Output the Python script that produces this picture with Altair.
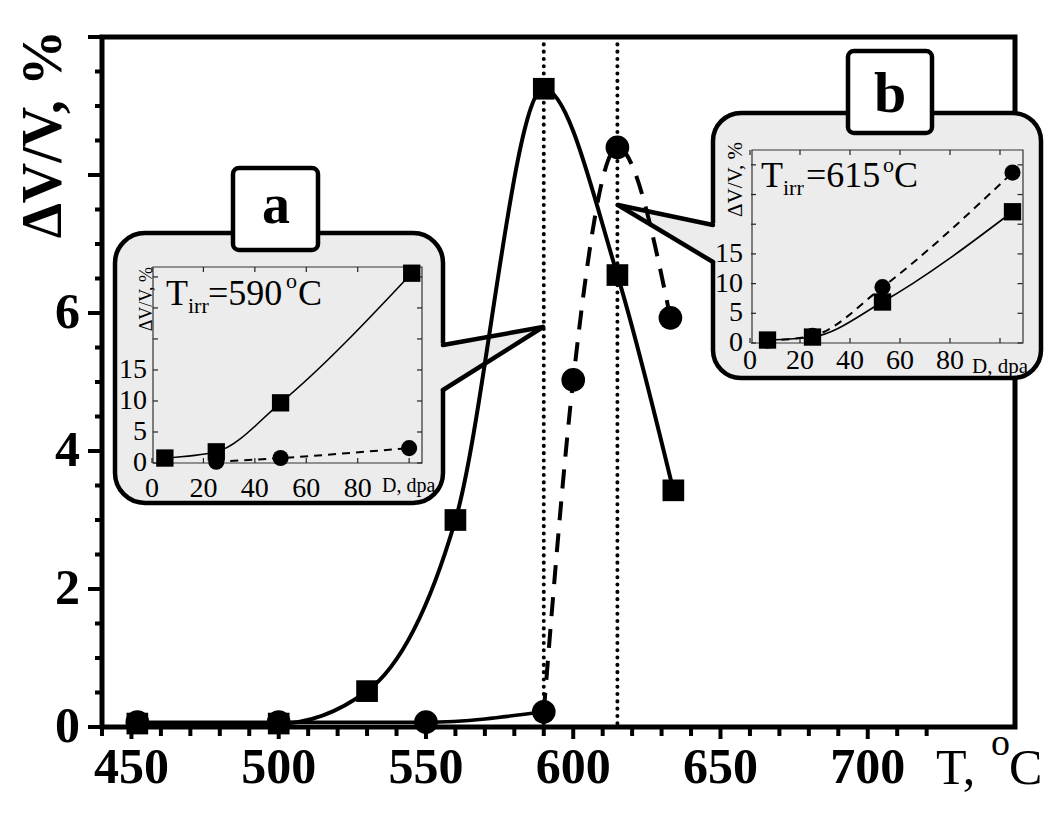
import altair as alt
import pandas as pd

SERIF = "Liberation Serif"
GRAY = "#ececec"

# ---------------- main panel data (T, °C  ->  dV/V, %) ----------------
sq_T = [452, 500, 530, 560, 590, 615, 634]
sq_V = [0.05, 0.05, 0.52, 3.0, 9.25, 6.55, 3.43]
ci_T = [452, 500, 550, 590, 600, 615, 633]
ci_V = [0.07, 0.07, 0.07, 0.22, 5.03, 8.4, 5.93]
irr_T = [590, 615]

x_major = [450, 500, 550, 600, 650, 700]
x_minor = [440, 460, 470, 480, 490, 510, 520, 530, 540, 560, 570, 580, 590,
           610, 620, 630, 640, 660, 670, 680, 690, 710, 720]
y_major = [0, 2, 4, 6, 8, 10]
y_labels = [0, 2, 4, 6]
y_minor = [0.5, 1, 1.5, 2.5, 3, 3.5, 4.5, 5, 5.5, 6.5, 7, 7.5, 8.5, 9, 9.5]

# ---------------- inset a (T_irr = 590 °C): D, dpa -> dV/V, % ----------------
a_sq_D = [5, 25, 50, 101]
a_sq_V = [0.8, 1.8, 9.7, 30.6]
a_ci_D = [25, 50, 100]
a_ci_V = [0.2, 0.8, 2.4]

# ---------------- inset b (T_irr = 615 °C) ----------------
b_sq_D = [7, 25, 53, 105]
b_sq_V = [0.5, 1.0, 6.9, 22.1]
b_ci_D = [7, 25, 53, 105]
b_ci_V = [0.4, 1.2, 9.4, 28.7]

inset_x_labels = [0, 20, 40, 60, 80]
inset_y_labels = [0, 5, 10, 15]
inset_x_ticks = [0, 20, 40, 60, 80, 100]
inset_y_ticks = [0, 5, 10, 15, 20, 25, 30]

W, H = 913, 690
one = pd.DataFrame({"k": [0]})


def txt(s, x, y, size, weight="normal", angle=0, align="left", baseline="alphabetic"):
    kw = dict(text=s, font=SERIF, fontSize=size, fontWeight=weight, align=align,
              baseline=baseline, color="black")
    if angle:
        kw["angle"] = angle
    return alt.Chart(one).mark_text(**kw).encode(x=alt.value(x), y=alt.value(y))


def box(x1, x2, y1, y2, r, fill, sw, stroke="black", fo=1):
    return alt.Chart(one).mark_rect(cornerRadius=r, fill=fill, fillOpacity=fo, stroke=stroke,
                                    strokeWidth=sw).encode(
        x=alt.value(x1), x2=alt.value(x2), y=alt.value(y1), y2=alt.value(y2))


def seg(x1, y1, x2, y2, sw):
    return alt.Chart(one).mark_rule(color="black", strokeWidth=sw, strokeCap="round").encode(
        x=alt.value(x1), y=alt.value(y1), x2=alt.value(x2), y2=alt.value(y2))


def wedge(pxs, pys, pys2):
    df = pd.DataFrame({"px": pxs, "py": pys, "py2": pys2})
    return alt.Chart(df).mark_area(color=GRAY, opacity=1, interpolate="linear").encode(
        x=alt.X("px:Q", scale=None, axis=None),
        y=alt.Y("py:Q", scale=None, axis=None),
        y2="py2:Q")


# ---------------- main scales ----------------
xs = alt.Scale(domain=[440, 750], nice=False, zero=False)
ys = alt.Scale(domain=[0, 10], nice=False, zero=False)

sq = pd.DataFrame({"T": sq_T, "V": sq_V})
ci = pd.DataFrame({"T": ci_T, "V": ci_V})
ci_lo = ci[ci["T"] <= irr_T[0]]
ci_hi = ci[ci["T"] >= irr_T[0]]

XM = lambda f="T": alt.X(f"{f}:Q", scale=xs, axis=None)
YM = lambda f="V": alt.Y(f"{f}:Q", scale=ys, axis=None)

xlab_df = pd.DataFrame({"T": x_major, "lab": [str(v) for v in x_major]})
ylab_df = pd.DataFrame({"V": y_labels, "lab": [str(v) for v in y_labels]})

main = alt.layer(
    # irradiation temperatures (dotted verticals)
    alt.Chart(pd.DataFrame({"T": irr_T})).mark_rule(
        color="black", strokeWidth=4, strokeDash=[0.1, 7.2], strokeCap="round").encode(
        x=XM(), y=alt.value(0), y2=alt.value(H)),
    # callout a
    box(13, 341, 196, 466, 30, GRAY, 4.5),
    wedge([336, 441], [307, 290], [354, 290]),
    seg(341, 308, 441, 290, 4.5),
    seg(341, 353, 441, 290, 4.5),
    box(131, 216, 131, 213, 6, "white", 4.5),
    txt("a", 174, 186, 56, "bold", align="center"),
    box(51, 320, 230, 426, 0, "white", 1.2, stroke="#333333", fo=0),
    # callout b
    box(611, 939, 76, 341, 28, GRAY, 4.5),
    wedge([516, 616], [168, 187], [168, 226]),
    seg(611, 188, 516, 168, 4.5),
    seg(611, 225, 516, 168, 4.5),
    box(746, 830, 14, 96, 6, "white", 4.5),
    txt("b", 788, 75, 58, "bold", align="center"),
    box(650, 921, 113, 306, 0, "white", 1.2, stroke="#333333", fo=0),
    # ticks
    alt.Chart(pd.DataFrame({"T": x_minor})).mark_rule(color="black", strokeWidth=4).encode(
        x=XM(), y=alt.value(H), y2=alt.value(H + 9)),
    alt.Chart(pd.DataFrame({"T": x_major})).mark_rule(color="black", strokeWidth=4).encode(
        x=XM(), y=alt.value(H), y2=alt.value(H + 12)),
    alt.Chart(pd.DataFrame({"V": y_minor})).mark_rule(color="black", strokeWidth=4).encode(
        y=YM(), x=alt.value(-7), x2=alt.value(0)),
    alt.Chart(pd.DataFrame({"V": y_major})).mark_rule(color="black", strokeWidth=4).encode(
        y=YM(), x=alt.value(-14), x2=alt.value(0)),
    # tick labels
    alt.Chart(xlab_df).mark_text(font=SERIF, fontSize=50, fontWeight="bold", color="black",
                                 align="center", baseline="alphabetic").encode(
        x=XM(), y=alt.value(H + 56), text="lab:N"),
    alt.Chart(ylab_df).mark_text(font=SERIF, fontSize=50, fontWeight="bold", color="black",
                                 align="right", baseline="middle").encode(
        y=YM(), x=alt.value(-22), text="lab:N"),
    # curves
    alt.Chart(sq).mark_line(interpolate="monotone", color="black", strokeWidth=4).encode(
        x=XM(), y=YM()),
    alt.Chart(ci_lo).mark_line(interpolate="monotone", color="black", strokeWidth=3.5).encode(
        x=XM(), y=YM()),
    alt.Chart(ci_hi).mark_line(interpolate="monotone", color="black", strokeWidth=4,
                               strokeDash=[19, 13]).encode(x=XM(), y=YM()),
    # markers
    alt.Chart(sq).mark_square(size=470, color="black", opacity=1).encode(x=XM(), y=YM()),
    alt.Chart(ci).mark_circle(size=560, color="black", opacity=1).encode(x=XM(), y=YM()),
    # titles
    txt("ΔV/V, %", -58, -7, 56, "bold", angle=270, align="right", baseline="middle"),
    txt("T,", 834, 747, 50),
    txt("o", 889, 718, 38),
    txt("C", 907, 747, 50),
    # inset a texts
    txt("T", 64, 268, 36), txt("irr", 86, 276, 22), txt("=590", 106, 268, 36),
    txt("o", 184, 251, 22), txt("C", 196, 268, 36),
    txt("ΔV/V, %", 45, 230, 18, angle=270, align="right", baseline="middle"),
    txt("D, dpa", 280, 455, 20),
    # inset b texts
    txt("T", 659, 150, 36), txt("irr", 681, 158, 22), txt("=615", 704, 150, 36),
    txt("o", 781, 135, 22), txt("C", 792, 150, 36),
    txt("ΔV/V, %", 634, 105, 21, angle=270, align="right", baseline="middle"),
    txt("D, dpa", 870, 336, 21),
)


def inset(sD, sV, cD, cV, xdom, xrng, ydom, yrng, lab_base, lab_right):
    sx = alt.Scale(domain=xdom, range=xrng, nice=False, zero=False)
    sy = alt.Scale(domain=ydom, range=yrng, nice=False, zero=False)
    s = pd.DataFrame({"D": sD, "V": sV})
    c = pd.DataFrame({"D": cD, "V": cV})
    X = lambda: alt.X("D:Q", scale=sx, axis=None)
    Y = lambda: alt.Y("V:Q", scale=sy, axis=None)
    bottom, top = yrng
    left, right = xrng[0] + 1, xrng[1]
    xl = pd.DataFrame({"D": inset_x_labels, "lab": [str(v) for v in inset_x_labels]})
    yl = pd.DataFrame({"V": inset_y_labels, "lab": [str(v) for v in inset_y_labels]})
    xt = pd.DataFrame({"D": inset_x_ticks})
    yt = pd.DataFrame({"V": inset_y_ticks})
    tick = dict(color="#222222", strokeWidth=1.2)
    return alt.layer(
        alt.Chart(xt).mark_rule(**tick).encode(x=X(), y=alt.value(bottom), y2=alt.value(bottom - 5)),
        alt.Chart(xt).mark_rule(**tick).encode(x=X(), y=alt.value(top), y2=alt.value(top + 5)),
        alt.Chart(yt).mark_rule(**tick).encode(y=Y(), x=alt.value(left), x2=alt.value(left + 5)),
        alt.Chart(yt).mark_rule(**tick).encode(y=Y(), x=alt.value(right), x2=alt.value(right - 5)),
        alt.Chart(xl).mark_text(font=SERIF, fontSize=28, color="black", align="center",
                                baseline="alphabetic").encode(
            x=X(), y=alt.value(lab_base), text="lab:N"),
        alt.Chart(yl).mark_text(font=SERIF, fontSize=28, color="black", align="right",
                                baseline="middle").encode(
            y=Y(), x=alt.value(lab_right), text="lab:N"),
        alt.Chart(s).mark_line(interpolate="monotone", color="black", strokeWidth=1.6).encode(
            x=X(), y=Y()),
        alt.Chart(c).mark_line(interpolate="monotone", color="black", strokeWidth=2,
                               strokeDash=[8, 6]).encode(x=X(), y=Y()),
        alt.Chart(s).mark_square(size=300, color="black", opacity=1).encode(x=X(), y=Y()),
        alt.Chart(c).mark_circle(size=260, color="black", opacity=1).encode(x=X(), y=Y()),
    )


inset_a = inset(a_sq_D, a_sq_V, a_ci_D, a_ci_V, [0, 105], [50, 320], [0, 31.6], [426, 230],
                460, 45)
inset_b = inset(b_sq_D, b_sq_V, b_ci_D, b_ci_V, [0, 109], [648, 920.5], [0, 32.5], [306, 113],
                332, 641)

chart = alt.layer(main, inset_a, inset_b).resolve_scale(
    x="independent", y="independent"
).properties(
    width=W, height=H,
    autosize=alt.AutoSizeParams(type="none"),
    padding={"left": 94, "top": 29, "right": 29, "bottom": 73},
    background="white",
).configure_view(stroke="black", strokeWidth=5)

chart.save("out.html", embed_options={"renderer": "svg", "actions": False})
